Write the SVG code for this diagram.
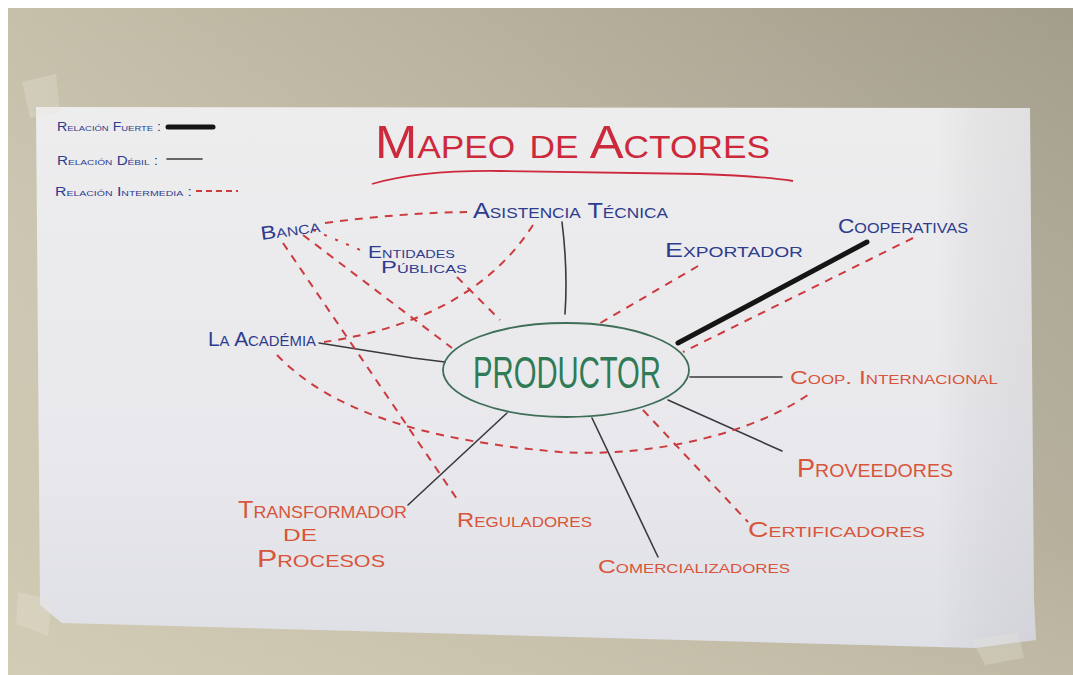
<svg xmlns="http://www.w3.org/2000/svg" width="1073" height="675" viewBox="0 0 1073 675">
<defs>
<linearGradient id="wall" x1="0" y1="0" x2="1" y2="0">
<stop offset="0" stop-color="#c6c0aa"/><stop offset="0.5" stop-color="#b6af9b"/><stop offset="1" stop-color="#a39d8b"/>
</linearGradient>
<linearGradient id="wallb" x1="0" y1="0" x2="0" y2="1">
<stop offset="0" stop-color="#ffffff" stop-opacity="0"/><stop offset="0.8" stop-color="#e2dbc4" stop-opacity="0.3"/><stop offset="1" stop-color="#e2dbc4" stop-opacity="0.45"/>
</linearGradient>
<linearGradient id="paper" x1="0" y1="0" x2="0" y2="1">
<stop offset="0" stop-color="#ededee"/><stop offset="0.6" stop-color="#e9e9ed"/><stop offset="1" stop-color="#dfe0e6"/>
</linearGradient>
<linearGradient id="paperR" x1="0" y1="0" x2="1" y2="0">
<stop offset="0" stop-color="#000" stop-opacity="0"/><stop offset="0.9" stop-color="#000" stop-opacity="0"/><stop offset="1" stop-color="#6a6a70" stop-opacity="0.1"/>
</linearGradient>
</defs>
<style>
text{font-family:"Liberation Sans","DejaVu Sans",sans-serif;font-variant:small-caps;}
.blue{fill:#2e3c8e;}
.red{fill:#d8553a;}
.title{fill:#cc2a3c;}
.green{fill:#2f7b55;}
.weak{stroke:#3a3a3e;stroke-width:1.6;fill:none;stroke-linecap:round;}
.strong{stroke:#151515;stroke-width:5;fill:none;stroke-linecap:round;}
.mid{stroke:#cc3a3e;stroke-width:2;fill:none;stroke-dasharray:8 7;}
.dot{stroke:#cc3a3e;stroke-width:2;fill:none;stroke-dasharray:3 9;}
</style>
<rect x="0" y="0" width="1073" height="675" fill="#ffffff"/>
<rect x="8" y="8" width="1065" height="667" fill="url(#wall)"/>
<rect x="8" y="8" width="1065" height="667" fill="url(#wallb)"/>
<g id="paper-sheet">
<polygon points="36,107 1030,108 1034,600 1036,640 975,648 62,623 40,605" fill="url(#paper)"/>
<polygon points="36,107 1030,108 1034,600 1036,640 975,648 62,623 40,605" fill="url(#paperR)"/>
<polygon points="22,82 56,74 60,112 30,118" fill="#e8e4d6" opacity="0.3"/>
<polygon points="18,592 52,600 48,636 16,624" fill="#e8e4d6" opacity="0.3"/>
<polygon points="972,640 1018,632 1024,658 985,665" fill="#e8e4d6" opacity="0.3"/>
</g>
<g id="title">
<text class="title" x="375" y="158" font-size="46" textLength="395" lengthAdjust="spacingAndGlyphs">Mapeo de Actores</text>
<path d="M372,184 Q420,170 500,171 L700,174 Q760,176 793,181" stroke="#cc2a3c" stroke-width="1.8" fill="none"/>
</g>
<g id="legend">
<text class="blue" x="57" y="131" font-size="12" textLength="104" lengthAdjust="spacingAndGlyphs">Relación Fuerte :</text>
<line x1="168" y1="127" x2="213" y2="127" class="strong" stroke-width="4"/>
<text class="blue" x="57" y="165" font-size="12" textLength="101" lengthAdjust="spacingAndGlyphs">Relación Débil :</text>
<line x1="167" y1="159" x2="202" y2="159" class="weak"/>
<text class="blue" x="55" y="196" font-size="12" textLength="137" lengthAdjust="spacingAndGlyphs">Relación Intermedia :</text>
<line x1="196" y1="191" x2="238" y2="191" stroke="#cc3a3e" stroke-width="2" stroke-dasharray="6 4"/>
</g>
<g id="connectors">
<path class="weak" d="M562,222 Q568,270 565,314"/>
<path class="weak" d="M319,343 L413,358 L445,362"/>
<line class="weak" x1="690" y1="377" x2="782" y2="377"/>
<line class="weak" x1="668" y1="400" x2="782" y2="451"/>
<line class="weak" x1="592" y1="418" x2="658" y2="557"/>
<line class="weak" x1="507" y1="413" x2="408" y2="505"/>
<line class="strong" x1="678" y1="343" x2="867" y2="242"/>
<path class="mid" d="M325,223 Q400,213 467,212"/>
<line class="dot" x1="313" y1="230" x2="365" y2="252"/>
<line class="mid" x1="283" y1="243" x2="457" y2="499"/>
<line class="mid" x1="303" y1="235" x2="452" y2="348"/>
<line class="mid" x1="457" y1="277" x2="500" y2="320"/>
<path class="mid" d="M533,225 Q472,320 324,342"/>
<path class="mid" d="M277,355 C330,410 420,440 560,452 C660,458 760,430 812,392"/>
<line class="mid" x1="698" y1="266" x2="597" y2="325"/>
<line class="mid" x1="913" y1="238" x2="683" y2="352"/>
<line class="mid" x1="643" y1="410" x2="748" y2="522"/>
</g>
<g id="productor">
<ellipse cx="566" cy="370" rx="123" ry="47" fill="none" stroke="#3f6e58" stroke-width="1.8"/>
<text class="green" x="473" y="388" font-size="44" textLength="188" lengthAdjust="spacingAndGlyphs" style="font-variant:normal">PRODUCTOR</text>
</g>
<g id="banca"><text class="blue" x="260" y="236" font-size="19" textLength="60" lengthAdjust="spacingAndGlyphs" transform="rotate(-8 290 228)">Banca</text></g>
<g id="asistencia-tecnica"><text class="blue" x="473" y="218" font-size="22" textLength="195" lengthAdjust="spacingAndGlyphs">Asistencia Técnica</text></g>
<g id="entidades-publicas">
<text class="blue" x="368" y="258" font-size="16" textLength="87" lengthAdjust="spacingAndGlyphs">Entidades</text>
<text class="blue" x="381" y="273" font-size="16" textLength="86" lengthAdjust="spacingAndGlyphs">Públicas</text>
</g>
<g id="exportador"><text class="blue" x="665" y="257" font-size="21" textLength="138" lengthAdjust="spacingAndGlyphs">Exportador</text></g>
<g id="cooperativas"><text class="blue" x="838" y="233" font-size="21" textLength="130" lengthAdjust="spacingAndGlyphs">Cooperativas</text></g>
<g id="la-academia"><text class="blue" x="208" y="346" font-size="21" textLength="108" lengthAdjust="spacingAndGlyphs">La Académia</text></g>
<g id="coop-internacional"><text class="red" x="790" y="384" font-size="19" textLength="208" lengthAdjust="spacingAndGlyphs">Coop. Internacional</text></g>
<g id="proveedores"><text class="red" x="797" y="477" font-size="25" textLength="156" lengthAdjust="spacingAndGlyphs">Proveedores</text></g>
<g id="certificadores"><text class="red" x="748" y="537" font-size="22" textLength="177" lengthAdjust="spacingAndGlyphs">Certificadores</text></g>
<g id="comercializadores"><text class="red" x="598" y="573" font-size="19" textLength="192" lengthAdjust="spacingAndGlyphs">Comercializadores</text></g>
<g id="reguladores"><text class="red" x="457" y="527" font-size="21" textLength="135" lengthAdjust="spacingAndGlyphs">Reguladores</text></g>
<g id="transformador-de-procesos">
<text class="red" x="238" y="518" font-size="24" textLength="169" lengthAdjust="spacingAndGlyphs">Transformador</text>
<text class="red" x="283" y="541" font-size="17" textLength="34" lengthAdjust="spacingAndGlyphs" style="font-variant:normal">DE</text>
<text class="red" x="257" y="567" font-size="24" textLength="128" lengthAdjust="spacingAndGlyphs">Procesos</text>
</g>
</svg>
